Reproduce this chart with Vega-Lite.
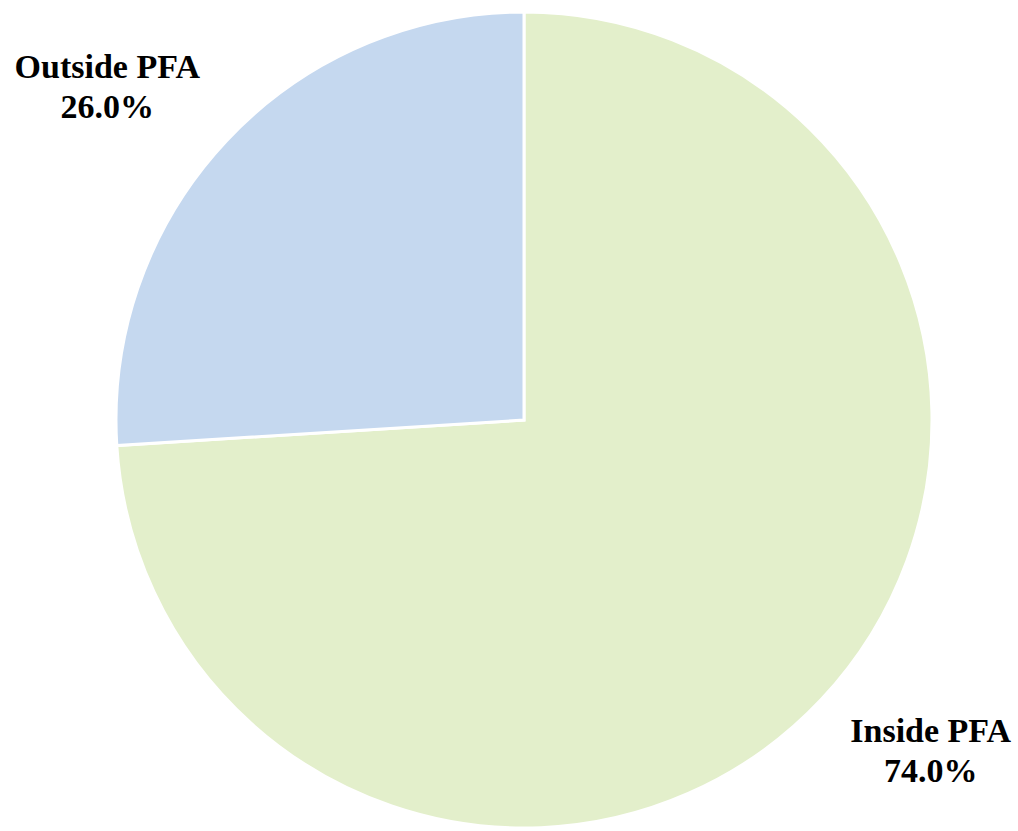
{
  "$schema": "https://vega.github.io/schema/vega-lite/v6.json",
  "width": 816,
  "height": 816,
  "autosize": {"type": "none"},
  "padding": {"left": 116, "top": 12, "right": 86, "bottom": 3},
  "background": "white",
  "config": {"view": {"stroke": null}},
  "data": {
    "values": [
      {"category": "Inside PFA", "share": 0.74},
      {"category": "Outside PFA", "share": 0.26}
    ]
  },
  "layer": [
    {
      "mark": {"type": "arc", "stroke": "white", "strokeWidth": 3},
      "encoding": {
        "theta": {"field": "share", "type": "quantitative", "stack": true},
        "color": {
          "field": "category",
          "type": "nominal",
          "scale": {"domain": ["Inside PFA", "Outside PFA"], "range": ["#E3EFCB", "#C5D8EF"]},
          "legend": null
        },
        "order": {"field": "category", "sort": "ascending"}
      }
    },
    {
      "mark": {"type": "text", "radius": 529, "dx": -5, "dy": -20, "font": "Liberation Serif", "fontWeight": "bold", "fontSize": 34, "color": "black"},
      "encoding": {
        "theta": {"field": "share", "type": "quantitative", "stack": true, "scale": {"range": [-0.075, 6.208]}},
        "order": {"field": "category", "sort": "ascending"},
        "text": {"field": "category", "type": "nominal"}
      }
    },
    {
      "mark": {"type": "text", "radius": 529, "dx": -5, "dy": 20, "font": "Liberation Serif", "fontWeight": "bold", "fontSize": 34, "color": "black"},
      "encoding": {
        "theta": {"field": "share", "type": "quantitative", "stack": true, "scale": {"range": [-0.075, 6.208]}},
        "order": {"field": "category", "sort": "ascending"},
        "text": {"field": "share", "type": "quantitative", "format": ".1%"}
      }
    }
  ],
  "resolve": {"scale": {"theta": "independent"}}
}
